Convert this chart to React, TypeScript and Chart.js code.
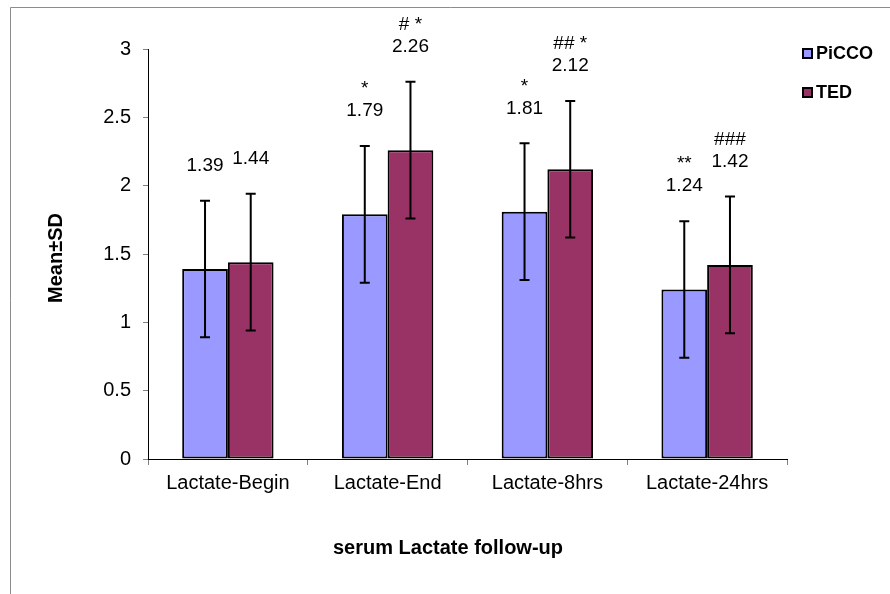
import React, { useEffect, useRef } from "react";
import { Chart, registerables } from "chart.js";

Chart.register(...registerables);

const categories = ["Lactate-Begin", "Lactate-End", "Lactate-8hrs", "Lactate-24hrs"];
const seriesNames = ["PiCCO", "TED"];
const piccoMeans = [1.39, 1.79, 1.81, 1.24];
const tedMeans = [1.44, 2.26, 2.12, 1.42];
const piccoSD = [0.5, 0.5, 0.5, 0.5];
const tedSD = [0.5, 0.5, 0.5, 0.5];
const piccoMarks = ["", "*", "*", "**"];
const tedMarks = ["", "# *", "## *", "###"];
const yMin = 0;
const yMax = 3;
const yStep = 0.5;
const xTitle = "serum Lactate follow-up";
const yTitle = "Mean±SD";
const seriesColors = ["#9999FF", "#993366"];

const FONT = "'Liberation Sans', Arial, Helvetica, sans-serif";

const means = [piccoMeans, tedMeans];
const sds = [piccoSD, tedSD];
const marks = [piccoMarks, tedMarks];

const overlayPlugin = {
  id: "overlayPlugin",
  beforeDraw(chart: any) {
    const ctx = chart.ctx;
    ctx.save();
    ctx.fillStyle = "#ffffff";
    ctx.fillRect(0, 0, chart.width, chart.height);
    ctx.strokeStyle = "#8c8c8c";
    ctx.lineWidth = 1;
    ctx.beginPath();
    ctx.moveTo(10.5, chart.height);
    ctx.lineTo(10.5, 7.5);
    ctx.lineTo(chart.width, 7.5);
    ctx.stroke();
    ctx.restore();
  },
  afterDatasetsDraw(chart: any) {
    const ctx = chart.ctx;
    const yScale = chart.scales.y;
    ctx.save();
    for (let d = 0; d < means.length; d++) {
      const meta = chart.getDatasetMeta(d);
      meta.data.forEach((bar: any, i: number) => {
        const x = bar.x;
        const v = means[d][i];
        const sd = sds[d][i];
        const yTop = yScale.getPixelForValue(v + sd);
        const yBot = yScale.getPixelForValue(v - sd);
        ctx.strokeStyle = "#000";
        ctx.lineWidth = 2;
        ctx.beginPath();
        ctx.moveTo(x, yTop);
        ctx.lineTo(x, yBot);
        ctx.moveTo(x - 5, yTop);
        ctx.lineTo(x + 5, yTop);
        ctx.moveTo(x - 5, yBot);
        ctx.lineTo(x + 5, yBot);
        ctx.stroke();
        ctx.fillStyle = "#000";
        ctx.font = `19px ${FONT}`;
        ctx.textAlign = "center";
        ctx.textBaseline = "middle";
        const ly = yTop - 35;
        ctx.fillText(v.toFixed(2), x, ly);
        const m = marks[d][i];
        if (m) ctx.fillText(m, x, ly - 22);
      });
    }
    ctx.restore();
  },
  afterDraw(chart: any) {
    const ctx = chart.ctx;
    ctx.save();
    ctx.fillStyle = "#000";
    ctx.font = `bold 20px ${FONT}`;
    ctx.textAlign = "center";
    ctx.textBaseline = "middle";
    ctx.fillText(xTitle, 448, 548);
    ctx.translate(56, 258);
    ctx.rotate(-Math.PI / 2);
    ctx.fillText(yTitle, 0, 0);
    ctx.setTransform(1, 0, 0, 1, 0, 0);
    ctx.font = `bold 18px ${FONT}`;
    ctx.textAlign = "left";
    const legendY = [53, 92];
    seriesNames.forEach((name, i) => {
      const y = legendY[i];
      ctx.fillStyle = seriesColors[i];
      ctx.fillRect(803, y - 4, 9, 9);
      ctx.strokeStyle = "#000";
      ctx.lineWidth = 2;
      ctx.strokeRect(803, y - 4, 9, 9);
      ctx.fillStyle = "#000";
      ctx.fillText(name, 816, y + 1);
    });
    ctx.restore();
  },
};

export default function App() {
  const ref = useRef<HTMLCanvasElement | null>(null);
  useEffect(() => {
    if (!ref.current) return;
    const chart = new Chart(ref.current, {
      type: "bar",
      data: {
        labels: categories,
        datasets: seriesNames.map((name, i) => ({
          label: name,
          data: means[i],
          backgroundColor: seriesColors[i],
          borderColor: "#000",
          borderWidth: 2,
          borderSkipped: false,
          categoryPercentage: 0.572,
          barPercentage: 1,
        })),
      },
      options: {
        responsive: false,
        animation: false,
        layout: { padding: { left: 0, top: 49, right: 103, bottom: 0 } },
        plugins: {
          legend: { display: false },
          tooltip: { enabled: false },
        },
        scales: {
          x: {
            grid: { offset: true, drawOnChartArea: false, tickLength: 6, color: "#808080" },
            border: { color: "#000", width: 1 },
            ticks: {
              color: "#000",
              font: { family: FONT, size: 20 },
              padding: 6,
              maxRotation: 0,
              autoSkip: false,
            },
            afterFit(s: any) {
              s.height = 135;
            },
          },
          y: {
            min: yMin,
            max: yMax,
            grid: { drawOnChartArea: false, tickLength: 5, color: "#808080" },
            border: { color: "#000", width: 1 },
            ticks: {
              stepSize: yStep,
              color: "#000",
              font: { family: FONT, size: 20 },
              padding: 12,
              callback: (v: any) => String(Number(v)),
            },
            afterFit(s: any) {
              s.width = 148;
            },
          },
        },
      },
      plugins: [overlayPlugin],
    } as any);
    return () => chart.destroy();
  }, []);
  return (
    <div style={{ position: "fixed", left: 0, top: 0, width: 890, height: 594 }}>
      <canvas ref={ref} width={890} height={594} style={{ display: "block" }} />
    </div>
  );
}
